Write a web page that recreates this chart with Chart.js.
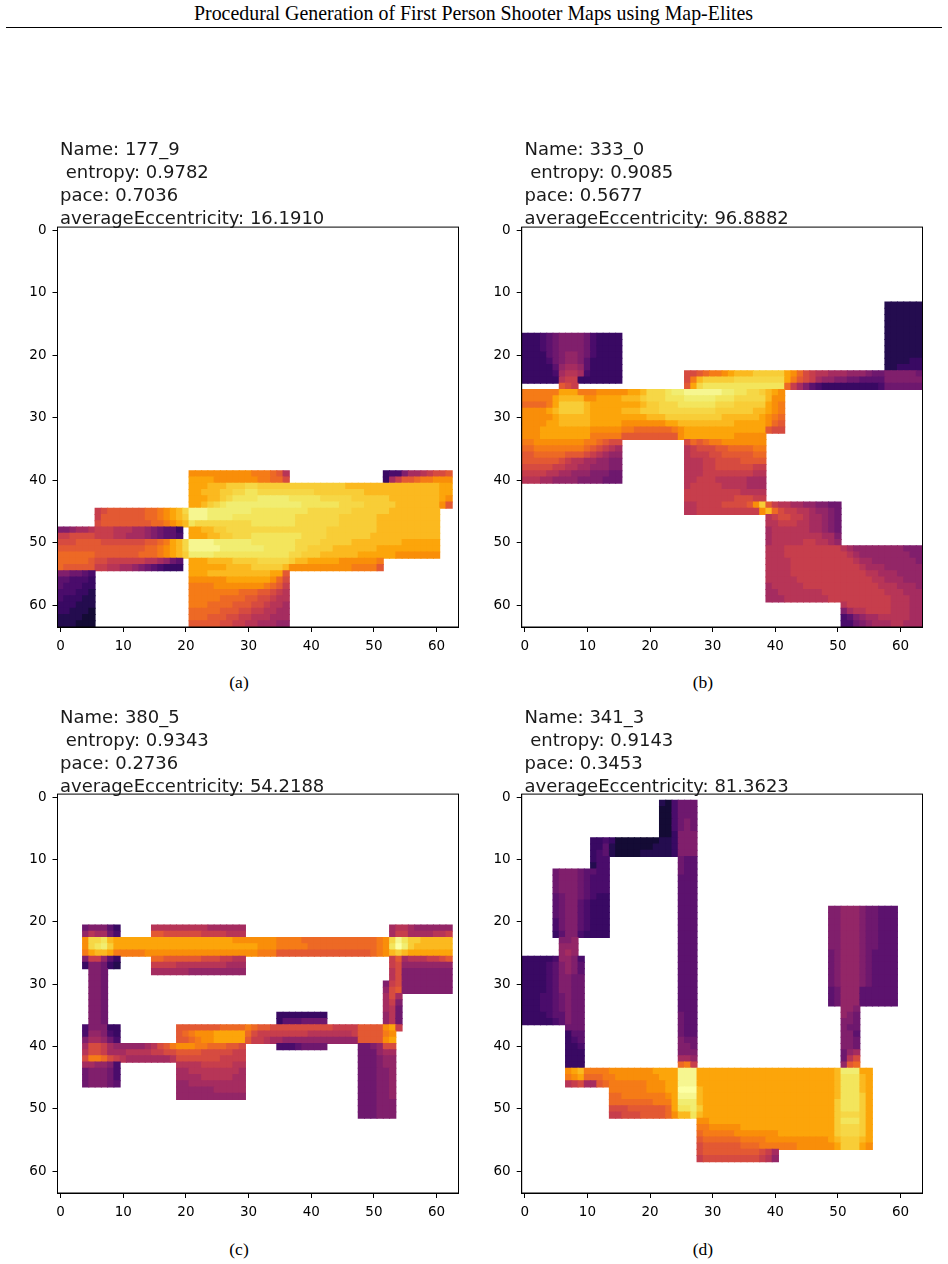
<!DOCTYPE html>
<html>
<head>
<meta charset="utf-8">
<title>Procedural Generation of First Person Shooter Maps using Map-Elites</title>
<script src="https://cdn.jsdelivr.net/npm/chart.js@4"></script>
<style>
  html, body { margin:0; background:#fff; }
  #page { position:relative; width:948px; height:1264px; overflow:hidden; }
  #head { position:absolute; left:0; width:947px; top:2px; text-align:center; font:19.9px/22px "Liberation Serif"; color:#000; }
  #rule { position:absolute; left:6px; width:936px; top:27px; height:1px; background:#000; }
  canvas { position:absolute; }
  .name { position:absolute; white-space:pre; font:18px/23px "DejaVu Sans"; color:#1a1a1a; }
  .cap { position:absolute; width:60px; text-align:center; font:17.5px/18px "Liberation Serif"; color:#000; }
</style>
</head>
<body>
<div id="page">
  <div id="head">Procedural Generation of First Person Shooter Maps using Map-Elites</div>
  <div id="rule"></div>
</div>
<script>
// Heat levels run from a (low) to z (high), one colour per letter
const levels = 'abcdefghijklmnopqrstuvwxyz';
const inferno = ['#000004','#08051c','#140b35','#240c4f','#390963','#4a0c6b','#5c126e','#6e186e','#801f6c',
  '#932667','#a52c60','#b73557','#c73e4c','#d64b40','#e35933','#ed6925','#f57b17','#f98e09','#fca50a',
  '#fbb91f','#f8cd37','#f6d746','#f3e55c','#f1ed71','#f6f690','#fcffa4'];

const tickValues = [0,10,20,30,40,50,60];
const mapNames = ['177_9','333_0','380_5','341_3'];
const entropy = ['0.9782','0.9085','0.9343','0.9143'];
const pace = ['0.7036','0.5677','0.2736','0.3453'];
const eccentricity = ['16.1910','96.8882','54.2188','81.3623'];
const captions = ['(a)','(b)','(c)','(d)'];

// Each entry: first row, last row, first column, run-length levels ("3s" = s,s,s)
const cellsA = [
  [39,39,21,'10r3qpol'],[39,39,52,'effikklmnno'],
  [40,40,21,'4s7r2qppn'],[40,40,52,'ekmoopqqrrr'],
  [41,41,21,'3s3t3u2v14u15t2s'],
  [42,42,21,'2s3t2u2v2w9v8u12t2s'],
  [43,43,21,'3s2tuv4w5x5w5v6u8tsr'],
  [44,44,21,'2stuvw12x6w4v5u7tro'],
  [45,45,6,'mn6o2pqrstv3y7x9w7v6u8t'],
  [46,46,6,'m7o2pqrstu3y4x10w7v6u10t'],
  [47,47,6,'n8o2pqrstw9v7w7v6u10t'],
  [48,48,0,'2ij2kl3m3l2kjih2ge'],[48,48,21,'2s2t2u16v8u10t'],
  [49,49,0,'2m4n3m2l3kjih2gf'],[49,49,21,'3s2t2u3v8w4v7u11t'],
  [50,50,0,'3n4o7n2opqstv4y6x7w4v5u8t6s'],
  [51,51,0,'14o2pqrstv5y7x5w2v4u7t10s'],
  [52,52,0,'6p7o3pqrstu4x12w2v3u6t6s7r'],
  [53,53,0,'5po2n6m2lkjhg'],[53,53,21,'3s4t4u5vu2t5s6rq'],
  [54,54,0,'p5o2m2l2kjihgf3e'],[54,54,21,'6s4t5ut10r4qo'],
  [55,55,0,'2i2hgf'],[55,55,21,'3s10t2so'],
  [56,56,0,'2g3fe'],[56,56,21,'6r7srpn'],
  [57,57,0,'g3f2e'],[57,57,21,'4q8rqpom'],
  [58,58,0,'3f2ed'],[58,58,21,'8q3p2onml'],
  [59,59,0,'f3e2d'],[59,59,21,'5q4p2o2nm2l'],
  [60,60,0,'3e3d'],[60,60,21,'3q4p3o2nm2lk'],
  [61,61,0,'2e3dc'],[61,61,21,'5p3o2n2m2l2k'],
  [62,62,0,'4d2c'],[62,62,21,'3p3o2n2m3l3k'],
  [63,63,0,'3d3c'],[63,63,21,'5o2n2m2l3k2j']
];

const cellsB = [
  [12,20,58,'6d'],[21,21,58,'4d2e'],[22,22,58,'2d4e'],
  [17,19,0,'3efgh4ihf4e'],[20,20,0,'4eghi2jihf4e'],[21,21,0,'4efhi2jig5e'],
  [22,22,0,'5egj2kjg5e'],[23,23,0,'5efk2lkf5e'],[24,24,0,'6el2m7e'],[25,25,6,'onm'],
  [23,23,26,'2nop2qrs3t5usrpnm2l3k3ji2h5ih'],
  [24,24,26,'nqt5u8vsqonmk2j2i2h4g6i'],
  [25,25,26,'osv13wpmkigf9ef6h'],
  [26,26,0,'6q3s3q5r2st3vw2x6y2x2w2vutsr'],
  [27,27,0,'5qs4t2r4s3tu3v3w5x3w5vt2r'],
  [28,28,0,'4pqs4ut5s3st2u3vw5w3v5usrq'],
  [29,29,0,'4rst4ut5s3t3u4v5v6u2tsrq'],
  [30,30,0,'5rs5t9s3t9u6tsrqp'],
  [31,31,0,'4r2s5t5s7r2s9t5srpo'],
  [32,32,0,'3r8s5r2q6pqr13so2n'],
  [33,33,0,'3r8s5q9or8s5r'],
  [34,34,0,'2q8r2qpo2n'],[34,34,26,'npopqq7r'],
  [35,35,0,'2p8qponmlk'],[35,35,26,'lm3n2o4p2q'],
  [36,36,0,'2o5p3onmlk2j'],[36,36,26,'l3m2n5o2p'],
  [37,37,0,'6onm2l2k2j2i'],[37,37,26,'3l2m4n4o'],
  [38,38,0,'5n2m2l2k3j2i'],[38,38,26,'3l2m6n2m'],
  [39,39,0,'4m2l2k3j3i2h'],[39,39,26,'3l8m2l'],
  [40,40,0,'3l2k4j4i3h'],[40,40,26,'2l3m5l3k'],
  [41,41,26,'l5m4l3k'],[42,42,26,'9m4l'],[43,43,26,'8m3n2m'],
  [44,44,26,'2l4m4noruom2l2k2j2i2h'],
  [45,45,26,'2l10mrtpn2m2lk2jih'],
  [46,46,39,'lm2n2ml2kjih'],[47,47,39,'2l3m2l2kjih'],[48,48,39,'k6l2kjih'],
  [49,49,39,'k8l2ki'],[50,50,39,'k5l2m2lkj'],
  [51,51,39,'3l9mlk8j3i'],
  [52,52,39,'3l10mlk8j2i'],
  [53,53,39,'4l10ml2k7ji'],
  [54,54,39,'4l11ml3k6j'],
  [55,55,39,'4l12m2l3k4j'],
  [56,56,39,'5l12m2l3k3j'],
  [57,57,39,'k5l12m3l3kj'],
  [58,58,39,'2k7l10m3l3k'],
  [59,59,39,'3k7l10m3l2k'],
  [60,60,51,'l7m3l2k'],[61,61,51,'ik2l4m3l2k'],[62,62,51,'fgij2k5l2k'],[63,63,51,'2fhij3k2l3k']
];

const cellsC = [
  [21,21,4,'h3ige'],[21,21,15,'9l6k'],[21,21,53,'k2lk6j'],
  [22,22,4,'jl2khf'],[22,22,15,'2o6n4m3l'],[22,22,53,'k2m4k2lm'],
  [23,23,4,'r2vwt19s7r4q12pqrvyw2u5t'],
  [24,24,4,'rvwxu23s3r5q11pqrwzxu6t'],
  [25,25,4,'qs2ts5q18r3q15opqrtut7s'],
  [26,26,4,'i2mjge'],[26,26,15,'2p6o3n2m2l'],[26,26,53,'mok3l2mno'],
  [27,27,4,'e2ihed'],[27,27,15,'4m8l3k'],[27,27,53,'mn8j'],
  [28,36,5,'2ih'],[28,28,15,'6k9j'],[28,29,53,'ln8i'],
  [30,30,52,'imn8i'],[31,31,52,'jno8i'],[32,32,52,'knk'],[33,33,52,'kmi'],
  [34,34,52,'klh'],[35,36,52,'jlh'],
  [35,35,35,'8e'],[36,36,35,'e3g4h'],
  [37,37,4,'f3i2e'],[37,37,19,'7o4pqp2o10n4m4orsm'],
  [38,38,4,'f2jife'],[38,38,19,'opq3r5spn8m7lm4oqr'],
  [39,39,4,'i2kjhf'],[39,39,19,'2opq2r5so2ml2k12j4ors'],
  [40,40,4,'k2nmk5jklnoq3r2q3p2on'],[40,40,35,'3fg4h'],[40,40,48,'2hij2n'],
  [41,41,4,'l2nm3k4l2m2n4o5n2m'],[41,41,48,'3hj2k'],
  [42,42,4,'n2qpnml7kl7n4m'],[42,43,48,'3hi2j'],
  [43,43,4,'2k2jif'],[43,43,19,'4l5m2l'],
  [44,44,4,'h3ihf'],[44,44,19,'2k8lk'],[44,48,48,'3h2ij'],
  [45,45,4,'h3ihf'],[45,45,19,'4k5l2k'],
  [46,46,4,'h3ihg'],[46,46,19,'2j9k'],
  [47,47,19,'6j5k'],[48,48,19,'11j'],
  [49,51,48,'3h3i']
];

const cellsD = [
  [1,1,22,'dcf3h'],[2,3,22,'2cf3h'],[4,5,22,'2cfhih'],[6,6,22,'2ce3i'],
  [7,7,11,'2efe7c2de3i'],[8,8,11,'2egd6c3de3i'],[9,9,11,'efgd4c5de3i'],
  [10,10,11,'e2f'],[11,11,11,'d2f'],[10,12,25,'h2g'],[13,34,25,'3g'],[35,38,25,'h2g'],
  [12,12,5,'h3ih2g2f'],[13,15,5,'h3ihg3f'],[16,16,5,'gh2ihgf2e'],[17,19,5,'gh2igf3e'],
  [20,21,5,'fh2igf3e'],[22,22,5,'eg2if4e'],
  [23,23,6,'2ij'],[24,24,6,'3j'],[25,25,6,'jkj'],
  [26,26,0,'5ef2jif'],[27,28,0,'4efgijig'],[29,31,0,'4efg2i2h'],[32,34,0,'3e2fghi2h'],
  [35,35,0,'4ef2gi2h'],[36,36,0,'5efgi2h'],
  [37,37,7,'3h'],[38,38,7,'e2g'],[39,39,7,'efg'],[40,40,7,'2ef'],[41,43,7,'3e'],
  [39,39,25,'i2h'],[40,40,25,'2ih'],[41,41,25,'3i'],[42,42,25,'2kj'],[43,43,25,'pqm'],
  [18,24,49,'2i3ji2h3g'],[25,30,49,'hi3jih4g'],[31,33,49,'gh3j6g'],
  [34,34,51,'2ji'],[35,35,51,'jih'],[36,36,51,'2ih'],[37,37,51,'i2h'],[38,38,51,'2ig'],
  [39,40,51,'2ih'],[41,41,51,'hjk'],[42,42,51,'hln'],[43,43,51,'jop'],
  [44,44,7,'rst4q7r4s3y22st3x2s'],
  [45,45,7,'qrs3p2q7r3s3y22st3wts'],
  [46,46,7,'lmn2kop6q3r2s3y22st3wts'],
  [47,47,14,'6q3r2s3zt21st3wts'],
  [48,48,14,'2p7qrs3yt21st3wus'],
  [49,49,14,'7p3qs3xt21su3wus'],
  [50,50,14,'3n6ops2wxu21su3wus'],
  [51,51,14,'2m3n4opr2twt21su3vus'],
  [52,52,28,'2r20su3wus'],
  [53,53,28,'2q5r15su3vus'],
  [54,54,28,'p5q7r9su3vus'],
  [55,55,28,'o6p4q10rst3uts'],
  [56,56,28,'n6o3p6q6rs3usr'],
  [57,57,28,'n9onmk'],
  [58,58,28,'m9nmlj']
];

const panelCells = [cellsA, cellsB, cellsC, cellsD];

// canvas box and plot-area geometry for the 2x2 grid
const layoutBoxes = [
  {left:0,   top:213, h:452, yw:57.5},
  {left:464, top:213, h:452, yw:57.7},
  {left:0,   top:780, h:451, yw:57.5},
  {left:464, top:780, h:451, yw:57.7}
];

function expand(cells){
  const pts = [];
  for(const [r0,r1,c0,runs] of cells){
    let c = c0;
    for(const [,n,l] of runs.matchAll(/(\d*)([a-z])/g)){
      const count = Number(n||1);
      for(let i=0;i<count;i++,c++){
        for(let r=r0;r<=r1;r++) pts.push({x:c, y:r, v:levels.indexOf(l)});
      }
    }
  }
  return pts;
}

// closes the plot box on all four sides
const frame = {
  id:'frame',
  afterDatasetsDraw(chart){
    const a = chart.chartArea, c = chart.ctx;
    c.save(); c.strokeStyle='#000'; c.lineWidth=1;
    c.strokeRect(a.left, a.top, a.right-a.left, a.bottom-a.top);
    c.restore();
  }
};

const page = document.getElementById('page');
const tickOpts = {color:'#000', font:{family:'DejaVu Sans', size:13.5}, autoSkip:false, maxRotation:0};
const gridOpts = {drawOnChartArea:false, drawTicks:true, tickLength:5, color:'#000', lineWidth:1};
const setTicks = s => { s.ticks = tickValues.map(v=>({value:v})); };

panelCells.forEach((cells,i)=>{
  const box = layoutBoxes[i];
  const cv = document.createElement('canvas');
  cv.width = 470; cv.height = box.h;
  cv.style.left = box.left+'px'; cv.style.top = box.top+'px';
  page.appendChild(cv);

  new Chart(cv, {
    type:'scatter',
    plugins:[frame],
    data:{datasets:[{
      data: expand(cells),
      pointStyle:'rect',
      pointBorderWidth:0,
      // square side = one cell plus a pixel of overlap so no seams show between neighbours
      pointRadius: ctx => { const s=ctx.chart.scales.x; return (Math.abs(s.getPixelForValue(1)-s.getPixelForValue(0))+1)/Math.SQRT2; },
      pointBackgroundColor: ctx => inferno[ctx.raw.v],
      clip:0
    }]},
    options:{
      responsive:false, animation:false, events:[],
      layout:{padding:{left:0, right:11.5, top:14, bottom:0}},
      plugins:{legend:{display:false}, tooltip:{enabled:false}},
      scales:{
        x:{type:'linear', min:-0.5, max:63.5, afterBuildTicks:setTicks,
           afterFit:s=>{s.height=38;}, ticks:{...tickOpts, padding:6},
           grid:gridOpts, border:{color:'#000', width:1}},
        y:{type:'linear', reverse:true, min:-0.5, max:63.5, afterBuildTicks:setTicks,
           afterFit:s=>{s.width=box.yw;}, ticks:{...tickOpts, padding:6},
           grid:gridOpts, border:{color:'#000', width:1}}
      }
    }
  });

  const name = document.createElement('div');
  name.className = 'name';
  name.style.left = (box.left + (i%2 ? 60.5 : 60))+'px';
  name.style.top = (box.top - 76 + (i>1 ? 1 : 0))+'px';
  name.textContent = `Name: ${mapNames[i]}\n entropy: ${entropy[i]}\npace: ${pace[i]}\naverageEccentricity: ${eccentricity[i]}`;
  page.appendChild(name);

  const cap = document.createElement('div');
  cap.className = 'cap';
  cap.style.left = (i%2 ? 673 : 209)+'px';
  cap.style.top = (i>1 ? 1240 : 673)+'px';
  cap.textContent = captions[i];
  page.appendChild(cap);
});
</script>
</body>
</html>
